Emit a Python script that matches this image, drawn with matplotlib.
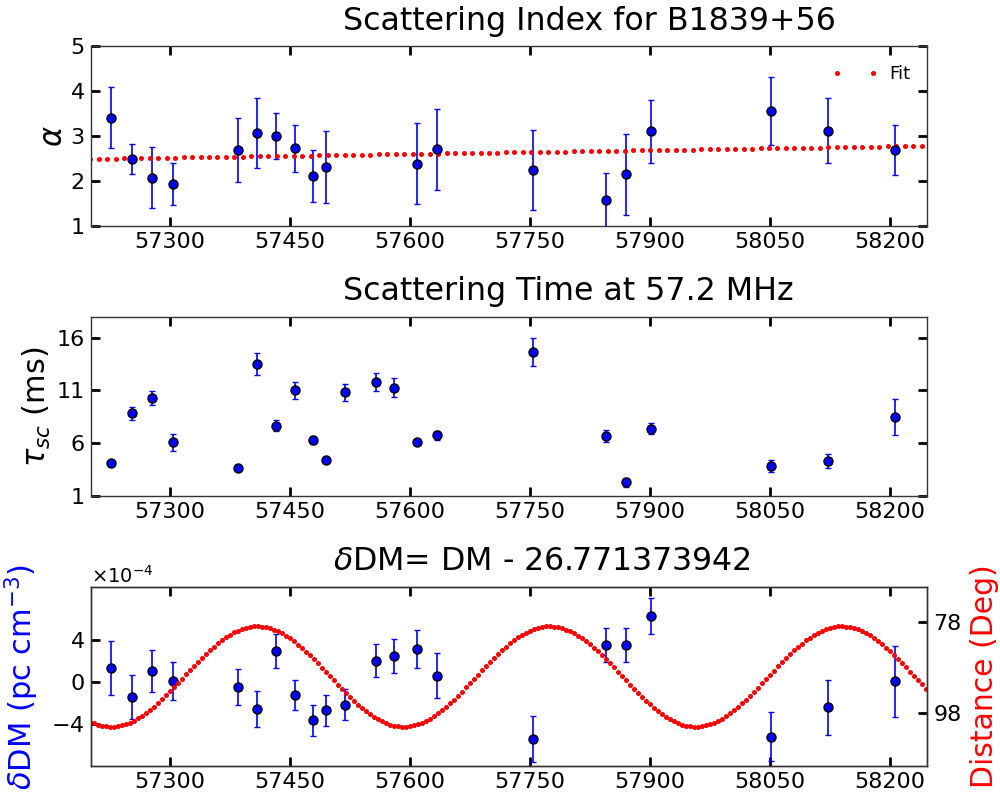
import numpy as np
import matplotlib
matplotlib.use('Agg')
import matplotlib.pyplot as plt
from matplotlib.ticker import ScalarFormatter

# ---------------------------- data ----------------------------------------#
mjdAlpha = [57226.5, 57252.5, 57277.5, 57303, 57385, 57409, 57432, 57456, 57478, 57495,
            57608, 57634, 57753, 57845, 57870, 57901, 58051, 58122, 58206]
alpha = [3.41, 2.49, 2.07, 1.94, 2.68, 3.07, 2.99, 2.73, 2.11, 2.32,
         2.38, 2.70, 2.25, 1.58, 2.15, 3.10, 3.56, 3.12, 2.69]
alphaErr = [0.68, 0.33, 0.68, 0.47, 0.71, 0.78, 0.51, 0.52, 0.57, 0.80,
            0.90, 0.89, 0.89, 0.60, 0.90, 0.69, 0.76, 0.72, 0.56]

# linear fit of alpha vs MJD (value at fitRef, slope per day)
fitRef = 57201
fitIntercept = 2.49
fitSlope = 2.78e-4
fitRange = (57200, 58250)
fitPoints = 100

mjd = [57226.5, 57252.5, 57277.5, 57303, 57385, 57409, 57432, 57456, 57478, 57495,
       57518, 57557, 57580, 57608, 57634, 57753, 57845, 57870, 57901, 58051, 58122, 58206]
tau = [4.13, 8.82, 10.30, 6.09, 3.69, 13.53, 7.65, 11.03, 6.28, 4.45, 10.84,
       11.79, 11.28, 6.09, 6.76, 14.64, 6.70, 2.30, 7.39, 3.82, 4.32, 8.50]
tauErr = [0.15, 0.57, 0.68, 0.78, 0.15, 1.04, 0.52, 0.81, 0.36, 0.15, 0.82,
          0.84, 0.90, 0.20, 0.43, 1.30, 0.60, 0.41, 0.55, 0.57, 0.66, 1.69]

# delta DM in units of 1e-4 pc cm^-3
dDM = [1.30, -1.43, 1.02, 0.06, -0.48, -2.57, 2.89, -1.24, -3.65, -2.70, -2.19,
       2.00, 2.48, 3.11, 0.57, -5.43, 3.50, 3.47, 6.22, -5.24, -2.41, 0.03]
dDMErr = [2.54, 2.08, 2.02, 1.81, 1.71, 1.68, 1.62, 1.40, 1.46, 1.48, 1.48,
          1.54, 1.62, 1.84, 2.16, 2.17, 1.62, 1.63, 1.70, 2.32, 2.60, 3.40]

# solar angular distance: pulsar ecliptic latitude, epoch of closest approach
eclLat = 78.9
conjMJD = 57409
yearDays = 365.25
sunStep = 5

xTicks = [57300, 57450, 57600, 57750, 57900, 58050, 58200]
xLim = (57201, 58246)

# ---------------------------- plot ----------------------------------------#
def styleAxis(ax, right=True):
    for sp in ax.spines.values():
        sp.set_linewidth(1.0)
        sp.set_color('#333333')
    ax.tick_params(direction='in', length=6.5, width=2, top=True, right=right,
                   labelsize=16, pad=4.5)
    ax.set_xlim(xLim)
    ax.set_xticks(xTicks)

def errPlot(ax, x, y, e):
    ax.errorbar(x, y, yerr=e, fmt='o', color='b', mfc='b', mec='k', mew=1, ms=6.5,
                ecolor='b', elinewidth=1.2, capsize=2.5, capthick=1)

fig = plt.figure(figsize=(10, 7.96), dpi=100)
L, W = 0.091, 0.836

# top panel
ax1 = fig.add_axes([L, 0.7161, W, 0.2261])
errPlot(ax1, mjdAlpha, alpha, alphaErr)
xf = np.linspace(fitRange[0], fitRange[1], fitPoints)
ax1.plot(xf, fitIntercept + fitSlope * (xf - fitRef), 'o', color='r', ms=3.6, mew=0, label='Fit')
styleAxis(ax1)
ax1.set_ylim(1, 5)
ax1.set_yticks([1, 2, 3, 4, 5])
ax1.set_ylabel(r'$\alpha$', fontsize=22)
ax1.yaxis.set_label_coords(-0.028, 0.5)
ax1.legend(loc='upper right', frameon=False, numpoints=2, fontsize=13,
           bbox_to_anchor=(1.0, 0.985), handletextpad=0.6, handlelength=2.6)
fig.text(0.343, 1 - 30 / 796, 'Scattering Index for B1839+56', fontsize=22.8,
         ha='left', va='baseline')

# middle panel
ax2 = fig.add_axes([L, 0.3769, W, 0.2253])
errPlot(ax2, mjd, tau, tauErr)
styleAxis(ax2)
ax2.set_ylim(1, 18)
ax2.set_yticks([1, 6, 11, 16])
ax2.set_ylabel(r'$\tau_{sc}$ (ms)', fontsize=22)
ax2.yaxis.set_label_coords(-0.045, 0.5)
fig.text(0.343, 1 - 300 / 796, 'Scattering Time at 57.2 MHz', fontsize=22.8,
         ha='left', va='baseline')

# bottom panel
ax3 = fig.add_axes([L, 0.0377, W, 0.2249])
errPlot(ax3, mjd, np.array(dDM) * 1e-4, np.array(dDMErr) * 1e-4)
styleAxis(ax3, right=False)
ax3.set_ylim(-8.0e-4, 9.0e-4)
ax3.set_yticks([-4e-4, 0, 4e-4])
fmt = ScalarFormatter(useMathText=True)
fmt.set_powerlimits((0, 0))
ax3.yaxis.set_major_formatter(fmt)
ax3.yaxis.get_offset_text().set_fontsize(14)
ax3.set_ylabel(r'$\delta$DM (pc cm$^{-3}$)', fontsize=22, color='b')
ax3.yaxis.set_label_coords(-0.06, 0.5)
fig.text(0.333, 1 - 570 / 796, r'$\delta$DM= DM - 26.771373942', fontsize=22.8,
         ha='left', va='baseline')

ax4 = ax3.twinx()
tSun = np.arange(fitRange[0], fitRange[1] + sunStep, sunStep)
phase = 2 * np.pi * (tSun - conjMJD) / yearDays
dist = np.degrees(np.arccos(np.cos(np.radians(eclLat)) * np.cos(phase)))
ax4.plot(tSun, dist, 'o', color='r', ms=3.6, mew=0)
ax4.set_ylim(109.8, 70.2)
ax4.set_yticks([78, 98])
ax4.tick_params(direction='in', length=6.5, width=2, right=True, left=False,
                labelsize=16, pad=4.5)
for sp in ax4.spines.values():
    sp.set_linewidth(1.0)
    sp.set_color('#333333')
ax4.set_ylabel('Distance (Deg)', fontsize=21.5, color='r')
ax4.yaxis.set_label_coords(1.052, 0.5)
ax4.set_xlim(xLim)

plt.savefig('out.png', dpi=100)
